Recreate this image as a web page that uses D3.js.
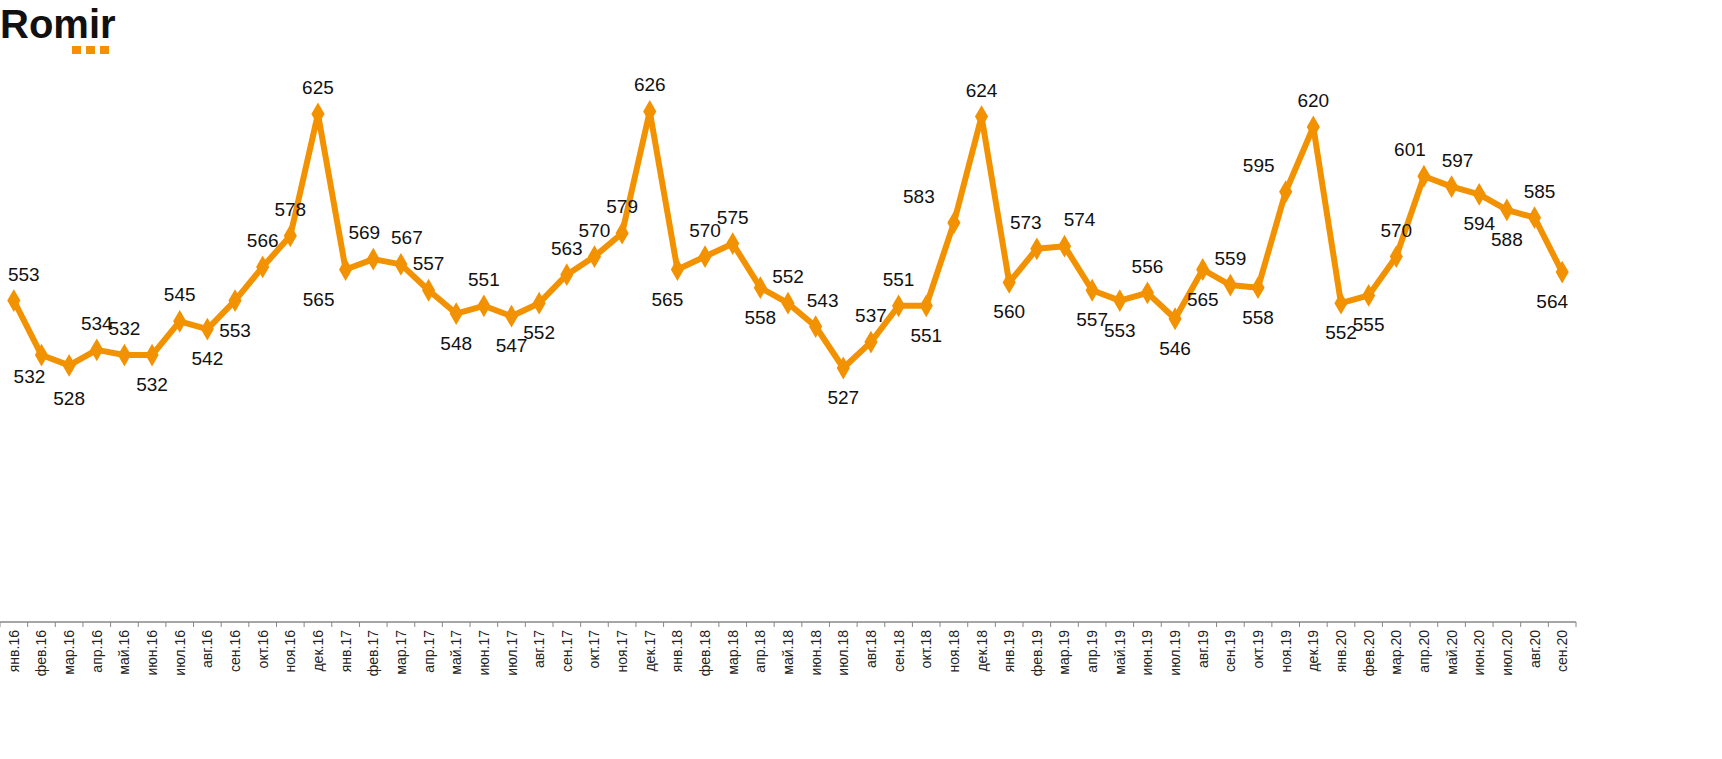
<!DOCTYPE html>
<html><head><meta charset="utf-8">
<script src="https://cdn.jsdelivr.net/npm/d3@7"></script>
<style>body{margin:0;background:#fff}text{font-family:Arial,"Liberation Sans",sans-serif}</style>
</head><body>
<svg id="chart" width="1722" height="759"></svg>
<script>
const months = ["янв","фев","мар","апр","май","июн","июл","авг","сен","окт","ноя","дек"];
const categories = [];
for (let y = 16; y <= 20; y++) months.forEach(function(m, i) { if (y < 20 || i < 9) categories.push(m + "." + y); });

const values = [553,532,528,534,532,532,545,542,553,566,578,625,
  565,569,567,557,548,551,547,552,563,570,579,626,
  565,570,575,558,552,543,527,537,551,551,583,624,
  560,573,574,557,553,556,546,565,559,558,595,620,
  552,555,570,601,597,594,588,585,564];

// a = label above the point, b = below
const labelSide = ["a","b","b","a","a","b","a","b","b","a","a","a",
  "b","a","a","a","b","a","b","b","a","a","a","a",
  "b","a","a","b","a","a","b","a","a","b","a","a",
  "b","a","a","b","b","a","b","b","a","b","a","a",
  "b","b","a","a","a","b","b","a","b"];
// nudge of some labels [dx, dy], px
const labelNudge = {0: [10, 0], 1: [-12, -8], 2: [0, 4], 12: [-27, 0], 13: [-9, 0], 14: [6, 0], 24: [-10, 0], 29: [7, 0],
  34: [-35, 0], 37: [-11, 0], 38: [15, 0], 46: [-27, 0], 51: [-14, 0], 52: [6, 0], 55: [5, 0], 56: [-10, 0]};

const svg = d3.select("#chart");
const orange = "#f39200";

// logo
svg.append("text").attr("x", 0).attr("y", 38).attr("font-size", 40).attr("font-weight", "bold")
  .attr("fill", "#111").text("Romir");
[0, 1, 2].forEach(function(i) {
  svg.append("rect").attr("x", 72 + i * 14).attr("y", 46).attr("width", 9).attr("height", 8).attr("fill", orange);
});

const x = d3.scaleBand().domain(categories).range([0, 1576]);
const y = d3.scaleLinear().domain([527, 625]).range([368, 114]);

const axisY = 622;
svg.append("line").attr("x1", 0).attr("x2", 1576).attr("y1", axisY).attr("y2", axisY)
  .attr("stroke", "#888").attr("stroke-width", 1.5);
d3.range(categories.length + 1).forEach(function(i) {
  svg.append("line").attr("x1", i * x.bandwidth()).attr("x2", i * x.bandwidth())
    .attr("y1", axisY).attr("y2", axisY + 5).attr("stroke", "#888");
});
svg.selectAll(".tick-label").data(categories).enter().append("text")
  .attr("class", "tick-label")
  .attr("transform", function(d) { return "translate(" + (x(d) + x.bandwidth() / 2 + 5) + "," + (axisY + 8) + ") rotate(-90)"; })
  .attr("text-anchor", "end").attr("font-size", 14).attr("fill", "#222").text(function(d) { return d; });

const cx = function(d, i) { return x(categories[i]) + x.bandwidth() / 2; };
svg.append("path").datum(values)
  .attr("d", d3.line().x(cx).y(function(d) { return y(d); }))
  .attr("fill", "none").attr("stroke", orange).attr("stroke-width", 6).attr("stroke-linejoin", "round");

svg.selectAll(".pt").data(values).enter().append("path")
  .attr("class", "pt")
  .attr("d", d3.symbol().type(d3.symbolDiamond).size(150))
  .attr("transform", function(d, i) { return "translate(" + cx(d, i) + "," + y(d) + ")"; })
  .attr("fill", orange);

const nudge = function(i) { return labelNudge[i] || [0, 0]; };
svg.selectAll(".lbl").data(values).enter().append("text")
  .attr("class", "lbl")
  .attr("x", function(d, i) { return cx(d, i) + nudge(i)[0]; })
  .attr("y", function(d, i) { return y(d) + (labelSide[i] === "a" ? -20 : 36) + nudge(i)[1]; })
  .attr("text-anchor", "middle").attr("font-size", 19).attr("fill", "#111")
  .text(function(d) { return d; });
</script>
</body></html>
